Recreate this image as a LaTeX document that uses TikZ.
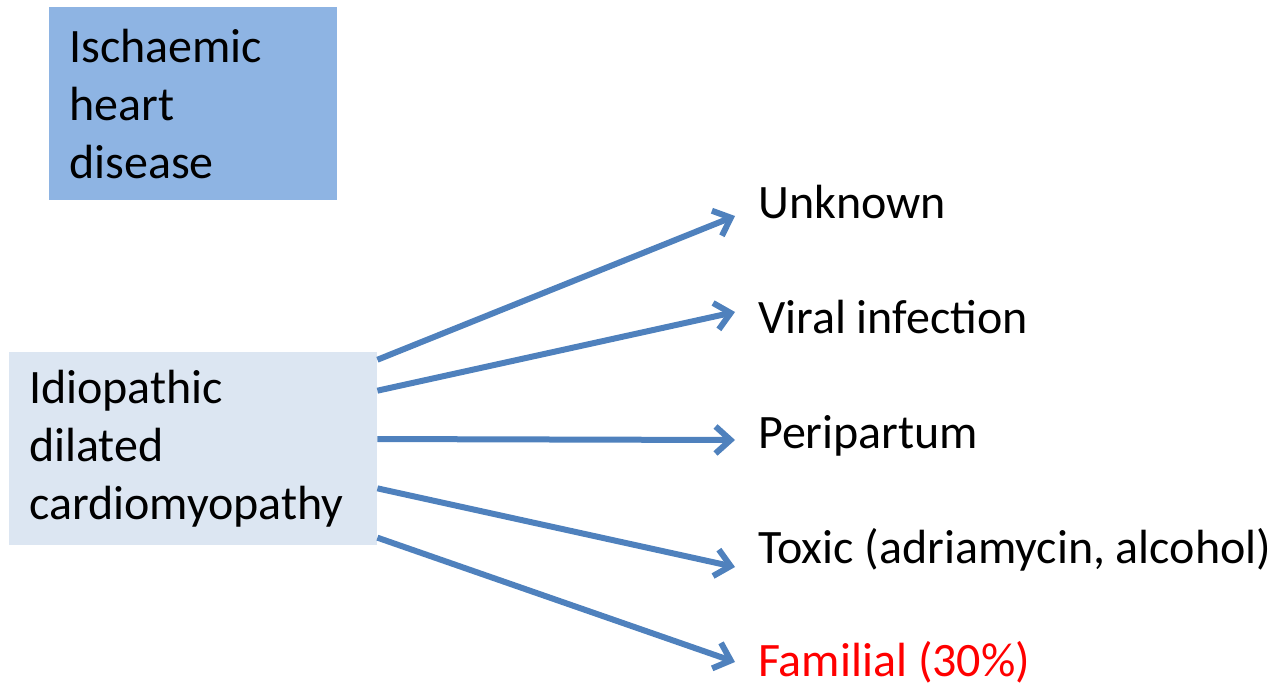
\documentclass[tikz,border=0pt]{standalone}
\usepackage{fontspec}
\setmainfont{Carlito}
\usetikzlibrary{arrows.meta,calc,positioning}
\definecolor{ihdblue}{HTML}{8EB4E3}
\definecolor{idcblue}{HTML}{DCE6F2}
\definecolor{arrowblue}{HTML}{4F81BD}
\definecolor{familred}{HTML}{FF0000}
\tikzset{
  causebox/.style={
    rectangle,
    draw=none,
    minimum height=193pt,
    inner xsep=20pt,
    inner ysep=0pt,
    align=left,
    anchor=north west,
    font=\fontsize{48}{58}\selectfont
  },
  ihd_box/.style={causebox, fill=ihdblue, minimum width=288pt, text width=248pt},
  idc_box/.style={causebox, fill=idcblue, minimum width=368pt, text width=328pt},
  cause/.style={
    anchor=base west,
    inner sep=0pt,
    font=\fontsize{48}{56}\selectfont
  },
  branch/.style={
    -{Straight Barb[length=15pt,width=27pt]},
    draw=arrowblue,
    line width=6pt,
    preaction={draw=black!25, opacity=0.35, transform canvas={shift={(1.5pt,-2pt)}}}
  }
}
\begin{document}
\begin{tikzpicture}[x=1pt,y=-1pt]
  \useasboundingbox (0,0) rectangle (1272,685);

  \node[ihd_box] (ihd) at (49,7) {Ischaemic\\heart\\disease};
  \node[idc_box] (idc) at (9,352) {Idiopathic\\dilated\\cardiomyopathy};

  \node[cause] (unknown) at (758,218) {Unknown};
  \node[cause] (viral) at (758,333) {Viral infection};
  \node[cause] (peri) at (758,448) {Peripartum};
  \node[cause] (toxic) at (758,563) {Toxic (adriamycin, alcohol)};
  \node[cause, text=familred] (famil) at (758,676) {Familial (30\%)};

  \foreach \f/\t/\dy in {0.04/unknown/-2, 0.2/viral/-21, 0.45/peri/-8, 0.705/toxic/4, 0.96/famil/-14}
    \draw[branch] ($(idc.north east)!\f!(idc.south east)$) -- ([shift={(-23,\dy)}]\t.base west);
\end{tikzpicture}
\end{document}
